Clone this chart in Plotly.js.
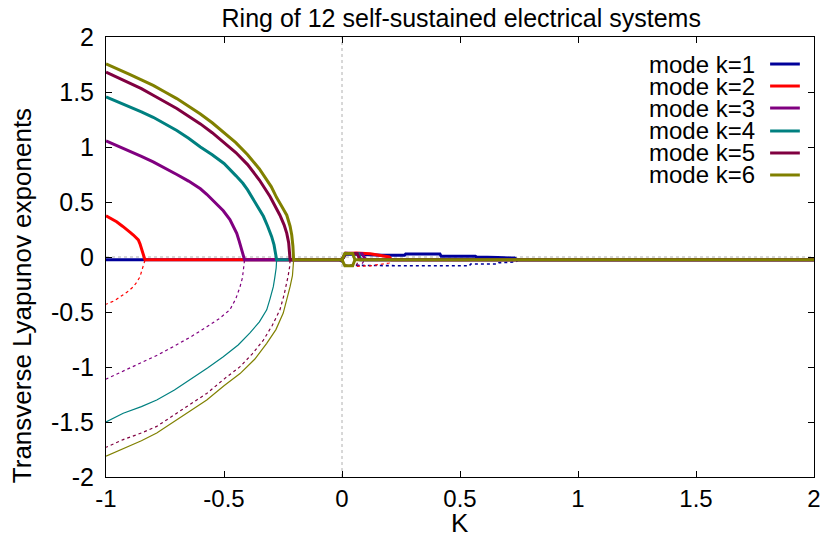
<!DOCTYPE html>
<html><head><meta charset="utf-8">
<script src="https://cdn.plot.ly/plotly-3.0.1.min.js"></script>
<style>html,body{margin:0;padding:0;background:#fff;}#chart{width:820px;height:543px;}</style>
</head><body><div id="chart"></div>
<script>
// ---- data ----
const modeNames = ["mode k=1","mode k=2","mode k=3","mode k=4","mode k=5","mode k=6"];
const modeColors = ["#00009a","#ff0000","#800080","#008080","#800040","#808000"];

// upper (thick) branch of each mode
const up1X = [-1, 0, 0.015, 0.06, 0.17, 0.265, 0.27, 0.415, 0.42, 0.565, 0.57, 0.655, 0.66, 0.73, 0.745, 2];
const up1Y = [-0.025, -0.025, 0.025, 0.025, 0.015, 0.015, 0.027, 0.027, 0.007, 0.007, 0.0, 0.0, -0.005, -0.01, -0.025, -0.025];
const up2X = [-1, -0.98, -0.955, -0.93, -0.912, -0.895, -0.884, -0.87, -0.863, -0.856, -0.849, -0.842, -0.835, 0, 0.015, 0.06, 0.12, 0.2, 0.21, 2];
const up2Y = [0.375, 0.35, 0.32, 0.28, 0.245, 0.22, 0.2, 0.175, 0.155, 0.12, 0.064, 0.02, -0.025, -0.025, 0.03, 0.036, 0.03, 0.0, -0.025, -0.025];
const up3X = [-1, -0.95, -0.9, -0.85, -0.8, -0.75, -0.7, -0.65, -0.6, -0.573, -0.54, -0.503, -0.475, -0.455, -0.446, -0.435, -0.425, -0.416, -0.413, 0, 0.015, 0.085, 0.1, 2];
const up3Y = [1.055, 1.01, 0.965, 0.915, 0.865, 0.81, 0.75, 0.69, 0.62, 0.57, 0.5, 0.42, 0.34, 0.26, 0.215, 0.14, 0.064, 0.01, -0.025, -0.025, 0.03, 0.03, -0.025, -0.025];
const up4X = [-1, -0.95, -0.9, -0.85, -0.8, -0.75, -0.7, -0.65, -0.6, -0.55, -0.5, -0.45, -0.42, -0.4, -0.376, -0.355, -0.333, -0.315, -0.298, -0.288, -0.282, -0.277, 0, 0.015, 0.07, 0.08, 2];
const up4Y = [1.455, 1.41, 1.37, 1.32, 1.27, 1.21, 1.15, 1.08, 1.0, 0.93, 0.85, 0.74, 0.67, 0.61, 0.52, 0.45, 0.37, 0.28, 0.185, 0.11, 0.04, -0.025, -0.025, 0.03, 0.03, -0.025, -0.025];
const up5X = [-1, -0.95, -0.9, -0.85, -0.8, -0.75, -0.7, -0.65, -0.6, -0.55, -0.5, -0.45, -0.4, -0.35, -0.305, -0.28, -0.263, -0.245, -0.234, -0.226, -0.222, -0.22, 0, 0.015, 0.065, 0.075, 2];
const up5Y = [1.68, 1.63, 1.58, 1.53, 1.47, 1.41, 1.35, 1.28, 1.21, 1.13, 1.04, 0.95, 0.84, 0.70, 0.55, 0.45, 0.38, 0.29, 0.215, 0.13, 0.05, -0.025, -0.025, 0.035, 0.03, -0.025, -0.025];
const up6X = [-1, -0.95, -0.9, -0.85, -0.8, -0.75, -0.7, -0.65, -0.6, -0.55, -0.5, -0.45, -0.4, -0.35, -0.3, -0.277, -0.255, -0.234, -0.22, -0.213, -0.208, -0.206, -0.205, 0, 0.012, 0.045, 0.055, 2, null, 0, 0.012, 0.045, 0.055];
const up6Y = [1.755, 1.71, 1.66, 1.61, 1.56, 1.50, 1.44, 1.37, 1.30, 1.22, 1.13, 1.04, 0.93, 0.80, 0.64, 0.54, 0.46, 0.38, 0.28, 0.2, 0.1, 0.03, -0.025, -0.025, 0.032, 0.032, -0.025, -0.025, null, -0.025, -0.08, -0.08, -0.025];

// lower (thin) branch of each mode
const lo1X = [-0.01, 0.015, 0.27, 0.54, 0.545, 0.66, 0.665, 0.735, 0.745];
const lo1Y = [-0.03, -0.075, -0.08, -0.08, -0.064, -0.064, -0.052, -0.045, -0.03];
const lo2X = [-0.835, -0.842, -0.849, -0.856, -0.87, -0.884, -0.905, -0.927, -0.962, -1, null, 0, 0.015, 0.06, 0.12, 0.2, 0.21];
const lo2Y = [-0.03, -0.088, -0.14, -0.18, -0.23, -0.27, -0.31, -0.345, -0.395, -0.43, null, -0.025, -0.075, -0.085, -0.08, -0.055, -0.03];
const lo3X = [-0.413, -0.416, -0.422, -0.432, -0.45, -0.475, -0.52, -0.573, -0.64, -0.715, -0.78, -0.856, -0.93, -1, null, 0, 0.015, 0.08, 0.095];
const lo3Y = [-0.03, -0.1, -0.19, -0.27, -0.38, -0.48, -0.56, -0.635, -0.725, -0.815, -0.89, -0.966, -1.04, -1.11, null, -0.025, -0.075, -0.075, -0.03];
const lo4X = [-0.277, -0.279, -0.285, -0.291, -0.305, -0.319, -0.35, -0.39, -0.44, -0.503, -0.57, -0.644, -0.71, -0.785, -0.85, -0.927, -1];
const lo4Y = [-0.03, -0.1, -0.19, -0.27, -0.38, -0.48, -0.59, -0.69, -0.8, -0.906, -1.01, -1.118, -1.21, -1.3, -1.36, -1.42, -1.5];
const lo5X = [-0.22, -0.222, -0.228, -0.234, -0.245, -0.263, -0.295, -0.333, -0.38, -0.432, -0.5, -0.573, -0.65, -0.72, -0.785, -0.85, -0.927, -1, null, 0, 0.015, 0.06, 0.07];
const lo5Y = [-0.03, -0.09, -0.17, -0.24, -0.34, -0.48, -0.62, -0.755, -0.88, -0.997, -1.11, -1.24, -1.35, -1.45, -1.54, -1.6, -1.66, -1.73, null, -0.025, -0.08, -0.08, -0.03];
const lo6X = [-0.205, -0.206, -0.21, -0.22, -0.235, -0.249, -0.28, -0.319, -0.37, -0.432, -0.5, -0.573, -0.65, -0.72, -0.785, -0.85, -0.927, -1];
const lo6Y = [-0.03, -0.08, -0.17, -0.27, -0.4, -0.51, -0.66, -0.785, -0.93, -1.06, -1.17, -1.3, -1.41, -1.51, -1.6, -1.67, -1.74, -1.81];

const xTicks = [-1, -0.5, 0, 0.5, 1, 1.5, 2];
const xTickText = ["-1", "-0.5", "0", "0.5", "1", "1.5", "2"];
const yTicks = [-2, -1.5, -1, -0.5, 0, 0.5, 1, 1.5, 2];
const yTickText = ["-2", "-1.5", "-1", "-0.5", "0", "0.5", "1", "1.5", "2"];

const upX = [up1X, up2X, up3X, up4X, up5X, up6X];
const upY = [up1Y, up2Y, up3Y, up4Y, up5Y, up6Y];
const loX = [lo1X, lo2X, lo3X, lo4X, lo5X, lo6X];
const loY = [lo1Y, lo2Y, lo3Y, lo4Y, lo5Y, lo6Y];
const loDash = ["dot", "dot", "dot", "solid", "dot", "solid"];
const loWidth = [1.6, 1.2, 1.2, 1.2, 1.2, 1.2];

const FONT = "Liberation Sans, Arial, Helvetica, sans-serif";
const traces = [];
for (let i = 0; i < 6; i++) {
  traces.push({x: loX[i], y: loY[i], type: "scatter", mode: "lines", showlegend: false,
    line: {color: modeColors[i], width: loWidth[i], dash: loDash[i]}, connectgaps: false, hoverinfo: "skip"});
  traces.push({x: upX[i], y: upY[i], type: "scatter", mode: "lines", name: modeNames[i], showlegend: false,
    line: {color: modeColors[i], width: 3}, connectgaps: false, hoverinfo: "skip"});
}

// legend drawn gnuplot-style: right-aligned text, sample on the right
const legY = [0.9386, 0.8886, 0.8386, 0.7864, 0.7364, 0.6864];
const annotations = [];
const shapes = [
  {type: "line", xref: "x", yref: "paper", x0: 0, x1: 0, y0: 0, y1: 1, line: {color: "#b0b0b0", width: 1, dash: "dot"}, layer: "below"},
  {type: "line", xref: "paper", yref: "y", x0: 0, x1: 1, y0: 0, y1: 0, line: {color: "#b0b0b0", width: 1, dash: "dot"}, layer: "below"}
];
for (let i = 0; i < 6; i++) {
  annotations.push({xref: "paper", yref: "paper", x: 0.9195, y: legY[i], xanchor: "right", yanchor: "middle",
    text: modeNames[i], showarrow: false, font: {family: FONT, size: 24, color: "#000"}});
  shapes.push({type: "line", xref: "paper", yref: "paper", x0: 0.938, x1: 0.980, y0: legY[i], y1: legY[i],
    line: {color: modeColors[i], width: 3}});
}
annotations.push({xref: "paper", yref: "paper", x: -0.1186, y: 0.411, xanchor: "center", yanchor: "middle",
  textangle: -90, text: "Transverse Lyapunov exponents", showarrow: false, font: {family: FONT, size: 26, color: "#000"}});
annotations.push({xref: "paper", yref: "paper", x: 0.5, y: -0.105, xanchor: "center", yanchor: "middle",
  text: "K", showarrow: false, font: {family: FONT, size: 26, color: "#000"}});

const layout = {
  width: 820, height: 543,
  margin: {l: 106, r: 6, t: 37, b: 66, pad: 0},
  paper_bgcolor: "#fff", plot_bgcolor: "#fff",
  showlegend: false,
  title: {text: "Ring of 12 self-sustained electrical systems", x: 0.5625, xanchor: "center", y: 0.967, yanchor: "middle",
    font: {family: FONT, size: 25, color: "#000"}},
  xaxis: {range: [-1, 2], tickvals: xTicks, ticktext: xTickText, ticks: "inside", ticklen: 6, tickcolor: "#000",
    showline: true, linecolor: "#000", linewidth: 1, mirror: "ticks", showgrid: false, zeroline: false,
    tickfont: {family: FONT, size: 24, color: "#000"}, ticklabelstandoff: 0, ticklabeloverflow: "allow"},
  yaxis: {range: [-2, 2], tickvals: yTicks, ticktext: yTickText, ticks: "inside", ticklen: 6, tickcolor: "#000",
    showline: true, linecolor: "#000", linewidth: 1, mirror: "ticks", showgrid: false, zeroline: false,
    tickfont: {family: FONT, size: 25, color: "#000"}, ticklabelstandoff: 6},
  annotations: annotations,
  shapes: shapes
};
Plotly.newPlot("chart", traces, layout, {staticPlot: true, displayModeBar: false});
</script></body></html>
